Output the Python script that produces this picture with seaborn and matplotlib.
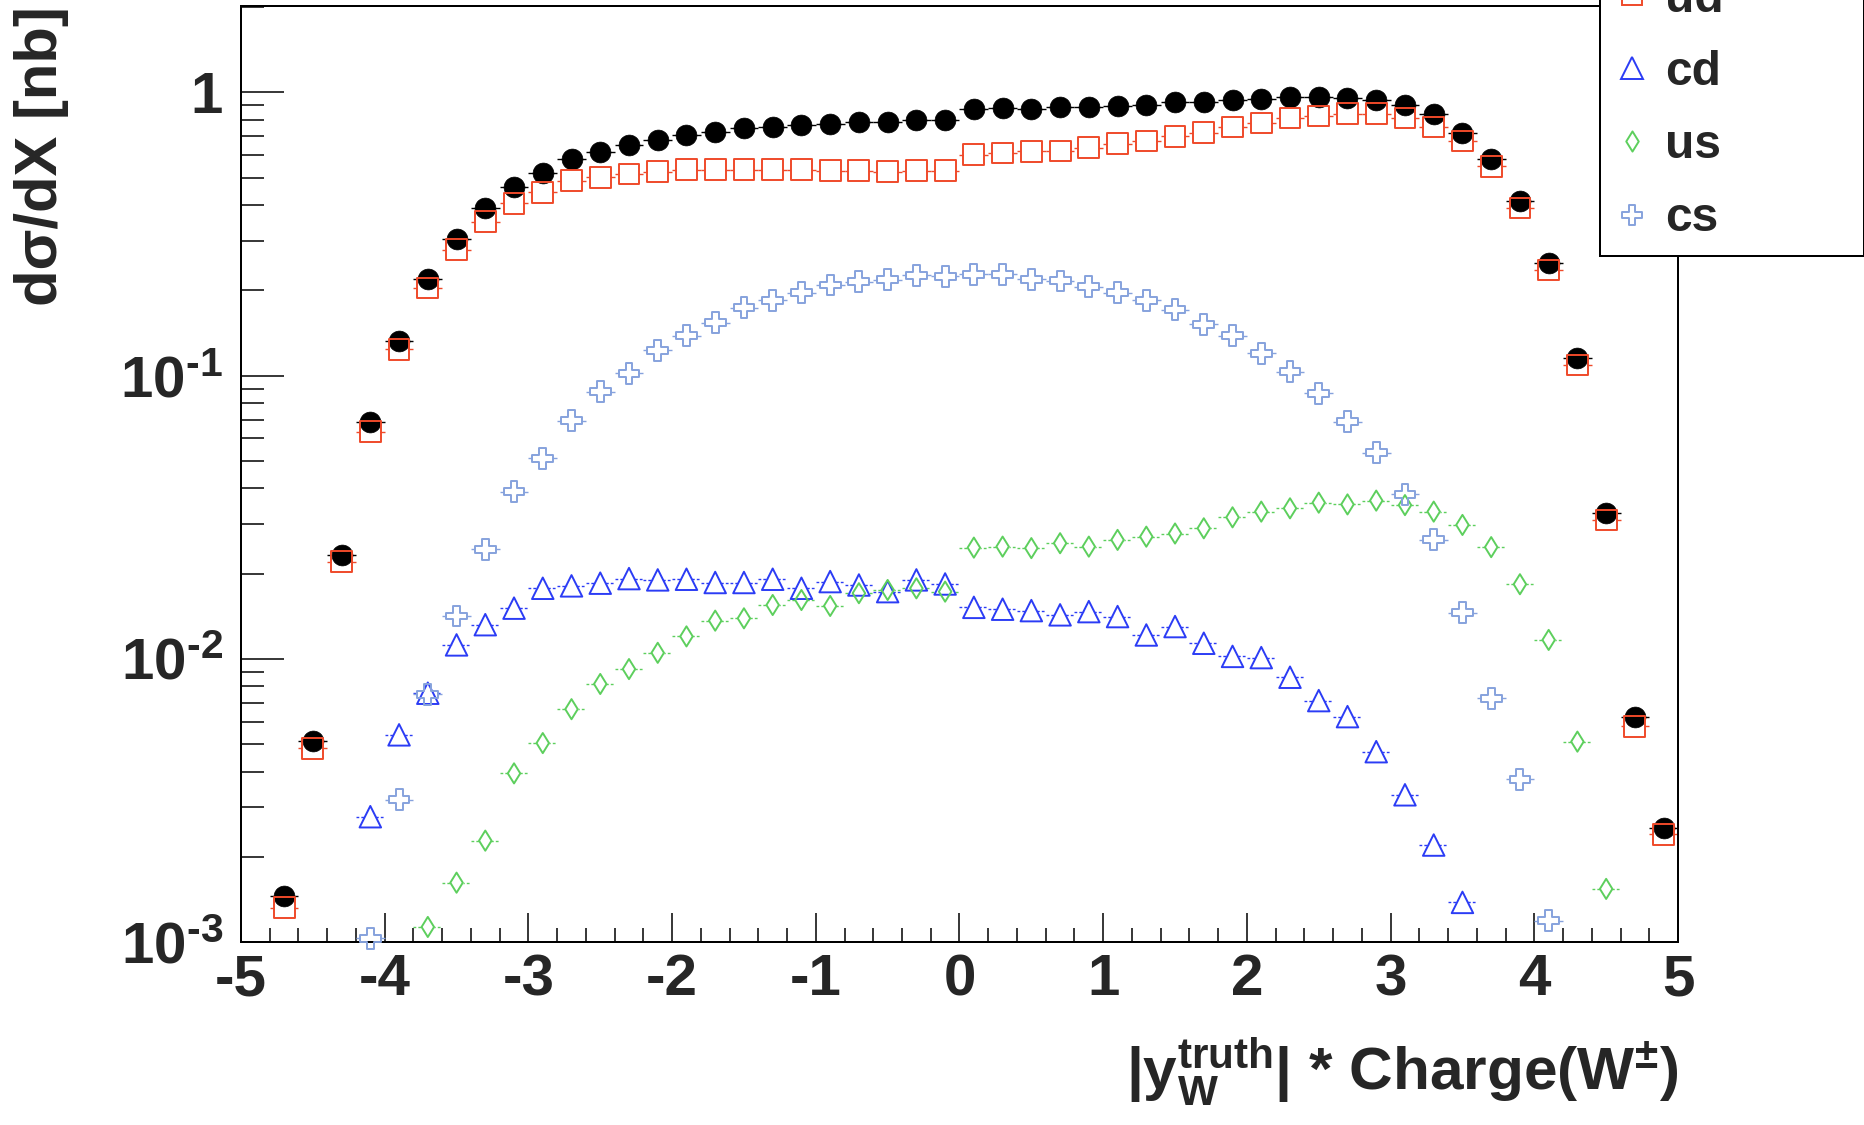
import numpy as np
import pandas as pd
import matplotlib
matplotlib.use("Agg")
import matplotlib.pyplot as plt
from matplotlib.path import Path
from matplotlib.lines import Line2D
from matplotlib.ticker import (FixedLocator, FixedFormatter, NullFormatter,
                               LogLocator, MultipleLocator)
import seaborn as sns

nan = np.nan

# ---------------- data ----------------
bin_centers = np.round(np.linspace(-4.9, 4.9, 50), 1)
bin_half_width = 0.1

total = [nan, 0.00145, 0.00514, 0.0233, 0.0687, 0.133, 0.220, 0.305, 0.390, 0.463,
         0.520, 0.580, 0.618, 0.652, 0.681, 0.710, 0.725, 0.749, 0.753, 0.767,
         0.776, 0.787, 0.785, 0.797, 0.797, 0.877, 0.880, 0.873, 0.885, 0.889,
         0.896, 0.902, 0.922, 0.922, 0.939, 0.947, 0.965, 0.965, 0.957, 0.944,
         0.902, 0.836, 0.719, 0.583, 0.415, 0.250, 0.115, 0.0327, 0.00625, 0.00252]

ud = [nan, 0.00132, 0.00483, 0.0220, 0.0634, 0.124, 0.204, 0.278, 0.350, 0.406,
      0.444, 0.488, 0.502, 0.515, 0.525, 0.533, 0.533, 0.534, 0.534, 0.534,
      0.530, 0.530, 0.525, 0.530, 0.530, 0.603, 0.611, 0.619, 0.621, 0.638,
      0.659, 0.674, 0.700, 0.721, 0.755, 0.780, 0.813, 0.826, 0.842, 0.842,
      0.813, 0.755, 0.674, 0.548, 0.391, 0.236, 0.109, 0.0309, 0.00577, 0.0024]

cd = [nan, nan, nan, nan, 0.00277, 0.00539, 0.00756, 0.0112, 0.0132, 0.0151,
      0.01775, 0.0181, 0.0185, 0.0192, 0.0190, 0.0191, 0.0186, 0.0186, 0.0191, 0.01775,
      0.01874, 0.01823, 0.01727, 0.0190, 0.01838, 0.0152, 0.01497, 0.0148, 0.0143, 0.01468,
      0.0141, 0.01214, 0.0130, 0.01135, 0.0102, 0.0101, 0.00861, 0.00712, 0.00625, 0.0047,
      0.00331, 0.0022, 0.00138, nan, nan, nan, nan, nan, nan, nan]

us = [nan, nan, nan, nan, nan, nan, 0.00113, 0.00162, 0.00228, 0.00394,
      0.00504, 0.00664, 0.00815, 0.0092, 0.0105, 0.0120, 0.01364, 0.0139, 0.01549, 0.01613,
      0.01537, 0.01705, 0.0175, 0.01774, 0.01727, 0.0247, 0.0249, 0.0246, 0.0256, 0.0249,
      0.0263, 0.0270, 0.0277, 0.0289, 0.0316, 0.0331, 0.0340, 0.0356, 0.0351, 0.0362,
      0.0349, 0.0331, 0.0297, 0.0248, 0.01834, 0.01166, 0.0051, 0.00154, nan, nan]

cs = [nan, nan, nan, nan, 0.00103, 0.00318, 0.0075, 0.01416, 0.0244, 0.0389,
      0.0511, 0.0693, 0.0877, 0.102, 0.1227, 0.1386, 0.1537, 0.174, 0.1845, 0.196,
      0.209, 0.215, 0.218, 0.226, 0.224, 0.228, 0.228, 0.219, 0.216, 0.206,
      0.196, 0.1845, 0.171, 0.152, 0.1386, 0.120, 0.1034, 0.0867, 0.0688, 0.0534,
      0.0381, 0.0263, 0.01456, 0.00726, 0.00376, 0.00119, nan, nan, nan, nan]

series_keys = ["all", "ud", "cd", "us", "cs"]
# the first legend entry lies above the top edge of the picture in the reference
legend_labels = ["", "ud", "cd", "us", "cs"]
x_tick_values = [-5, -4, -3, -2, -1, 0, 1, 2, 3, 4, 5]
y_tick_values = [1e-3, 1e-2, 1e-1, 1]
y_tick_labels = ["$10^{\u2010 3}$", "$10^{\u2010 2}$", "$10^{\u2010 1}$", "1"]

# ---------------- style ----------------
sns.set_style("ticks")
plt.rcParams["font.family"] = ["Liberation Sans", "DejaVu Sans"]
plt.rcParams["font.weight"] = "bold"
plt.rcParams["mathtext.fontset"] = "custom"
plt.rcParams["mathtext.rm"] = "Liberation Sans:bold"
plt.rcParams["mathtext.it"] = "Liberation Sans:bold"
plt.rcParams["mathtext.bf"] = "Liberation Sans:bold"
plt.rcParams["mathtext.sf"] = "Liberation Sans:bold"
plt.rcParams["axes.unicode_minus"] = False

a = 0.33
cross_path = Path([(-a, 1), (a, 1), (a, a), (1, a), (1, -a), (a, -a), (a, -1),
                   (-a, -1), (-a, -a), (-1, -a), (-1, a), (-a, a), (-a, 1)],
                  closed=True)
diamond_path = Path([(0, 1), (0.62, 0), (0, -1), (-0.62, 0), (0, 1)], closed=True)

styles = {
    "all": dict(color="black", marker="o", ms=15.0, filled=True, lw=1.0, ls="-"),
    "ud": dict(color="#ef4a2a", marker="s", ms=15.0, filled=False, lw=1.0, ls="-"),
    "cd": dict(color="#2b3cf5", marker="^", ms=15.5, filled=False, lw=1.0, ls=(0, (2, 1.5))),
    "us": dict(color="#5dcf5d", marker=diamond_path, ms=14.5, filled=False, lw=1.0, ls=(0, (2, 1.5))),
    "cs": dict(color="#86a2dd", marker=cross_path, ms=15.0, filled=False, lw=1.0, ls="-"),
}
values = {"all": total, "ud": ud, "cd": cd, "us": us, "cs": cs}

fig = plt.figure(figsize=(18.65, 11.25), dpi=100)
ax = fig.add_axes([241 / 1865, 1 - 942 / 1125, 1437 / 1865, 936 / 1125])

for key in series_keys:
    st = styles[key]
    df = pd.DataFrame({"x": bin_centers, "y": values[key]}).dropna()
    # horizontal bin-width bars
    eb = ax.errorbar(df["x"], df["y"], xerr=bin_half_width, fmt="none",
                     ecolor=st["color"], elinewidth=st["lw"], capsize=0, zorder=1)
    for lc in eb[2]:
        lc.set_linestyle(st["ls"])
    if not st["filled"]:
        # white mask so bars stop at the marker outline
        sns.scatterplot(data=df, x="x", y="y", ax=ax, marker=st["marker"],
                        s=st["ms"] ** 2, facecolor="white", edgecolor="white",
                        linewidth=0, zorder=2, clip_on=False, legend=False)

for key in series_keys:
    st = styles[key]
    df = pd.DataFrame({"x": bin_centers, "y": values[key]}).dropna()
    if st["filled"]:
        sns.scatterplot(data=df, x="x", y="y", ax=ax, marker=st["marker"],
                        s=st["ms"] ** 2, color=st["color"], edgecolor=st["color"],
                        linewidth=0.5, zorder=3, clip_on=False, legend=False)
    else:
        sns.scatterplot(data=df, x="x", y="y", ax=ax, marker=st["marker"],
                        s=st["ms"] ** 2, color=st["color"], facecolor="none",
                        edgecolor=st["color"], linewidth=1.4, zorder=4,
                        clip_on=False, legend=False)

# ---------------- axes ----------------
ax.set_xlim(-5, 5)
ax.set_yscale("log")
ax.set_ylim(1e-3, 2.02)
ax.xaxis.set_major_locator(FixedLocator(x_tick_values))
ax.xaxis.set_major_formatter(FixedFormatter([str(v) for v in x_tick_values]))
ax.xaxis.set_minor_locator(MultipleLocator(0.2))
ax.yaxis.set_major_locator(FixedLocator(y_tick_values))
ax.yaxis.set_major_formatter(FixedFormatter(y_tick_labels))
ax.yaxis.set_minor_locator(LogLocator(base=10, subs=np.arange(2, 10), numticks=20))
ax.yaxis.set_minor_formatter(NullFormatter())

ax.tick_params(axis="x", which="major", direction="in", length=21, width=1.1,
               labelsize=42, pad=8, top=False, color="black")
ax.tick_params(axis="x", which="minor", direction="in", length=10, width=1.1,
               top=False, color="black")
ax.tick_params(axis="y", which="major", direction="in", length=31, width=1.1,
               labelsize=42, pad=13, right=False, color="black")
ax.tick_params(axis="y", which="minor", direction="in", length=16.5, width=1.1,
               right=False, color="black")
for sp in ax.spines.values():
    sp.set_visible(True)
    sp.set_linewidth(1.44)
    sp.set_color("black")

ax.set_xlabel(r"|y$_{W}^{truth}$| * Charge(W$^{\pm}$)", fontsize=43.5,
              fontweight="bold", loc="right")
ax.xaxis.set_label_coords(1.0, -0.1)
ax.set_ylabel("dσ/dX [nb]", fontsize=43, fontweight="bold", loc="top")
ax.yaxis.set_label_coords(-0.12, 1.0)

# ---------------- legend ----------------
handles = []
for key in series_keys:
    st = styles[key]
    handles.append(Line2D([], [], linestyle="None", marker=st["marker"],
                          markersize=st["ms"], color=st["color"],
                          markerfacecolor=st["color"] if st["filled"] else "none",
                          markeredgecolor=st["color"],
                          markeredgewidth=1.4))
leg = ax.legend(handles, legend_labels, loc="lower left",
                bbox_to_anchor=(1600 / 1865, 1 - 256 / 1125, 264 / 1865, 0.5),
                bbox_transform=fig.transFigure, mode="expand", borderaxespad=0,
                borderpad=0.305, labelspacing=0.59, handlelength=0.725,
                handletextpad=0.32, prop={"weight": "bold", "size": 34.5},
                frameon=True, fancybox=False, framealpha=1, edgecolor="black")
leg.get_frame().set_linewidth(1.44)
leg.set_zorder(10)

fig.savefig("out.png", dpi=100)
